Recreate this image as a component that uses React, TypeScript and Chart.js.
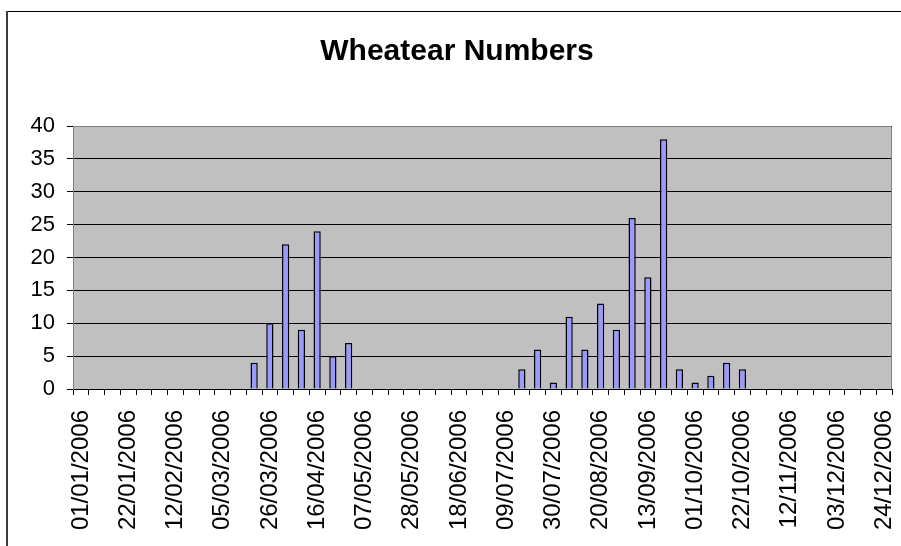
import React, { useEffect, useRef } from "react";
import { Chart, registerables } from "chart.js";

Chart.register(...registerables);

const TITLE = "Wheatear Numbers";

const DATES = [
  "01/01/2006", "08/01/2006", "15/01/2006", "22/01/2006", "29/01/2006", "05/02/2006",
  "12/02/2006", "19/02/2006", "26/02/2006", "05/03/2006", "12/03/2006", "19/03/2006",
  "26/03/2006", "02/04/2006", "09/04/2006", "16/04/2006", "23/04/2006", "30/04/2006",
  "07/05/2006", "14/05/2006", "21/05/2006", "28/05/2006", "04/06/2006", "11/06/2006",
  "18/06/2006", "25/06/2006", "02/07/2006", "09/07/2006", "16/07/2006", "23/07/2006",
  "30/07/2006", "06/08/2006", "13/08/2006", "20/08/2006", "27/08/2006", "03/09/2006",
  "13/09/2006", "17/09/2006", "24/09/2006", "01/10/2006", "08/10/2006", "15/10/2006",
  "22/10/2006", "29/10/2006", "05/11/2006", "12/11/2006", "19/11/2006", "26/11/2006",
  "03/12/2006", "10/12/2006", "17/12/2006", "24/12/2006",
];

const COUNTS = [
  0, 0, 0, 0, 0, 0,
  0, 0, 0, 0, 0, 4,
  10, 22, 9, 24, 5, 7,
  0, 0, 0, 0, 0, 0,
  0, 0, 0, 0, 3, 6,
  1, 11, 6, 13, 9, 26,
  17, 38, 3, 1, 2, 4,
  3, 0, 0, 0, 0, 0,
  0, 0, 0, 0,
];

const Y_MIN = 0;
const Y_MAX = 40;
const Y_STEP = 5;
const LABEL_EVERY = 3;

const FONT = '"Liberation Sans", Arial, Helvetica, sans-serif';

export default function App() {
  const ref = useRef<HTMLCanvasElement>(null);

  useEffect(() => {
    const canvas = ref.current;
    if (!canvas) return;

    const framePlugin = {
      id: "excelFrame",
      beforeDraw(chart: any) {
        const { ctx, chartArea: a } = chart;
        ctx.save();
        ctx.fillStyle = "#ffffff";
        ctx.fillRect(0, 0, chart.width, chart.height);
        ctx.fillStyle = "#c0c0c0";
        ctx.fillRect(a.left, a.top, a.right - a.left, a.bottom - a.top);
        ctx.fillStyle = "#000000";
        ctx.fillRect(6, 11, chart.width - 6, 1);
        ctx.fillStyle = "#3c3c3c";
        ctx.fillRect(6, 11, 2, chart.height - 11);
        ctx.restore();
      },
      afterDraw(chart: any) {
        const { ctx, chartArea: a } = chart;
        ctx.save();
        ctx.strokeStyle = "#808080";
        ctx.lineWidth = 1;
        ctx.beginPath();
        const t = Math.round(a.top) + 0.5;
        const r = Math.round(a.right) - 0.5;
        ctx.moveTo(a.left, t);
        ctx.lineTo(r, t);
        ctx.lineTo(r, a.bottom);
        ctx.stroke();
        ctx.restore();
      },
    };

    const chart = new Chart(canvas, {
      type: "bar",
      data: {
        labels: DATES,
        datasets: [
          {
            data: COUNTS,
            backgroundColor: "#9999ff",
            borderColor: "#000000",
            borderWidth: 1.5,
            barPercentage: 0.46,
            categoryPercentage: 1,
          },
        ],
      },
      options: {
        animation: false,
        responsive: false,
        devicePixelRatio: 1,
        layout: { padding: { left: 22, right: 22, top: 0, bottom: 0 } },
        plugins: {
          legend: { display: false },
          tooltip: { enabled: false },
          title: {
            display: true,
            text: TITLE,
            color: "#000000",
            font: { family: FONT, size: 30, weight: "bold" },
            padding: { top: 34, bottom: 56 },
          },
        },
        scales: {
          x: {
            offset: true,
            grid: {
              offset: true,
              drawOnChartArea: false,
              drawTicks: true,
              tickLength: 6,
              color: "#000000",
            },
            border: { color: "#000000", width: 1 },
            ticks: {
              autoSkip: false,
              maxRotation: 90,
              minRotation: 90,
              padding: 15,
              color: "#000000",
              font: { family: FONT, size: 24 },
              callback: (_v: any, i: number) => (i % LABEL_EVERY === 0 ? DATES[i] : ""),
            },
            afterFit: (s: any) => {
              s.height = 157;
              s.paddingLeft = 0;
              s.paddingRight = 0;
            },
          },
          y: {
            min: Y_MIN,
            max: Y_MAX,
            ticks: {
              stepSize: Y_STEP,
              padding: 12,
              color: "#000000",
              font: { family: FONT, size: 22 },
            },
            grid: { color: "#000000", tickLength: 6 },
            border: { color: "#808080", width: 1 },
            afterFit: (s: any) => {
              s.width = 51;
              s.paddingTop = 0;
              s.paddingBottom = 0;
            },
          },
        },
      },
      plugins: [framePlugin],
    });

    return () => chart.destroy();
  }, []);

  return (
    <div
      style={{
        position: "fixed",
        left: 0,
        top: 0,
        width: 901,
        height: 546,
        overflow: "hidden",
        background: "#ffffff",
      }}
    >
      <canvas ref={ref} width={914} height={546} style={{ display: "block" }} />
    </div>
  );
}
